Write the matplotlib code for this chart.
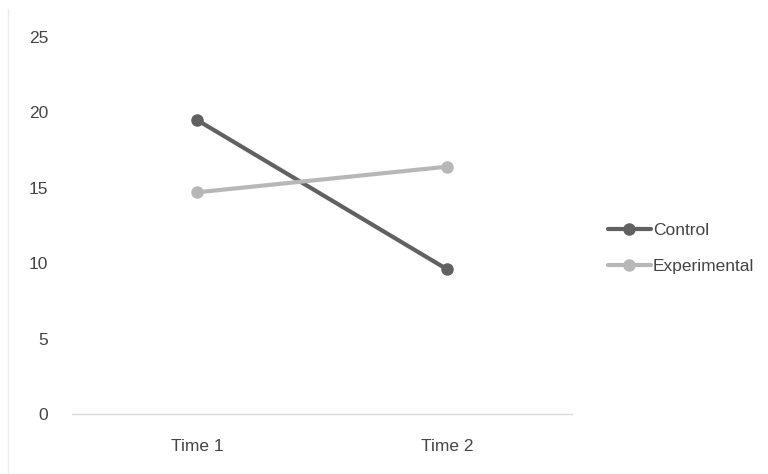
import matplotlib.pyplot as plt
from matplotlib.lines import Line2D

times = ['Time 1', 'Time 2']
control = [19.5, 9.6]
experimental = [14.7, 16.4]
yticks = [0, 5, 10, 15, 20, 25]

plt.rcParams['font.family'] = ['Liberation Sans', 'DejaVu Sans']

fig = plt.figure(figsize=(7.68, 4.74), dpi=100)
ax = fig.add_axes([0.09375, 0.1266, 0.651, 0.7953])

x = list(range(len(times)))
ax.plot(x, control, color='#616161', lw=3, marker='o', ms=8, label='Control', solid_capstyle='round')
ax.plot(x, experimental, color='#b7b7b7', lw=3, marker='o', ms=8, label='Experimental', solid_capstyle='round')

ax.set_xlim(-0.5, 1.5)
ax.set_ylim(0, 25)
ax.set_xticks(x)
ax.set_xticklabels(times)
ax.set_yticks(yticks)
ax.tick_params(length=0, labelsize=12.5, colors='#444444')
ax.tick_params(axis='x', pad=18)
ax.tick_params(axis='y', pad=17)
for s in ['top', 'right', 'left']:
    ax.spines[s].set_visible(False)
ax.spines['bottom'].set_color('#d9d9d9')
ax.spines['bottom'].set_linewidth(1)

ax.legend(loc='center left', bbox_to_anchor=(1.04, 0.44), frameon=False,
          fontsize=12.5, handlelength=2.5, handletextpad=0.1, labelspacing=1.2,
          labelcolor='#444444')

# faint border on the left
fig.add_artist(Line2D([0.0104, 0.0104], [0, 0.98], color='#ececec', lw=1))

fig.savefig('out.png', dpi=100)
